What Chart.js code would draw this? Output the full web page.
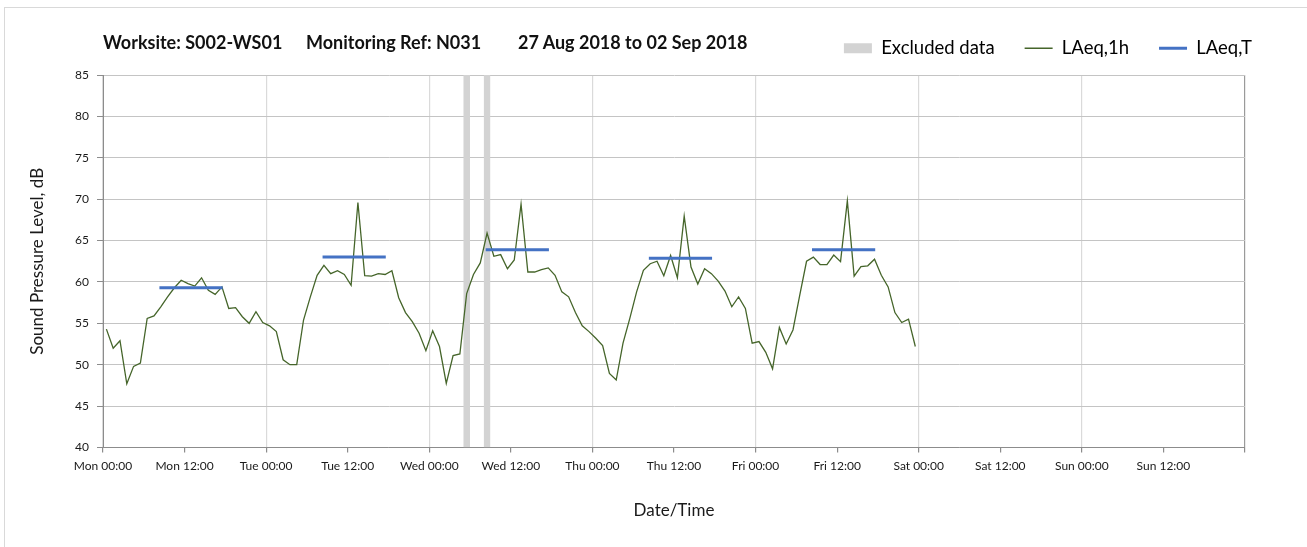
<!DOCTYPE html>
<html>
<head>
<meta charset="utf-8">
<script src="https://cdn.jsdelivr.net/npm/chart.js@4.4.1/dist/chart.umd.min.js"></script>
<style>
  html, body { margin: 0; padding: 0; background: #ffffff; }
  #wrap { position: relative; width: 1307px; height: 547px; overflow: hidden; background: #fff; }
  #frame { position: absolute; left: 4px; top: 7px; width: 1400px; height: 600px;
           border-left: 1px solid #d9d9d9; border-top: 1px solid #d9d9d9; }
  #title { position: absolute; left: 0; top: 31px; width: 1307px; height: 26px;
           font-family: Lato, "Open Sans", sans-serif; font-weight: bold; font-size: 18px; color: #111; }
  #title span { position: absolute; top: 0; white-space: pre; }
  canvas { position: absolute; left: 0; top: 0; }
</style>
</head>
<body>
<div id="wrap">
  <div id="frame"></div>
  <canvas id="c" width="1307" height="547"></canvas>
  <div id="title"><span style="left:103px">Worksite: S002-WS01</span><span style="left:306px">Monitoring Ref: N031</span><span style="left:518px">27 Aug 2018 to 02 Sep 2018</span></div>
</div>
<script>
// ---- Data ----
const tickLabels = ['Mon 00:00','Mon 12:00','Tue 00:00','Tue 12:00','Wed 00:00','Wed 12:00',
  'Thu 00:00','Thu 12:00','Fri 00:00','Fri 12:00','Sat 00:00','Sat 12:00','Sun 00:00','Sun 12:00'];

// hourly LAeq,1h values (dB), starting Mon 00:00
const laeq1h = [
  54.3, 52.0, 52.9, 47.7, 49.8, 50.2, 55.6, 55.9, 57.0, 58.2, 59.3, 60.2,
  59.8, 59.5, 60.5, 59.0, 58.5, 59.4, 56.8, 56.9, 55.8, 55.0, 56.4, 55.1,
  54.7, 54.0, 50.6, 50.0, 50.0, 55.4, 58.2, 60.8, 62.0, 61.0, 61.35, 60.9,
  59.6, 69.6, 60.75, 60.7, 61.0, 60.9, 61.35, 58.1, 56.3, 55.2, 53.8, 51.7,
  54.1, 52.2, 47.75, 51.1, 51.3, 58.6, 60.9, 62.3, 65.9, 63.1, 63.3, 61.6,
  62.65, 69.4, 61.2, 61.2, 61.5, 61.7, 60.8, 58.8, 58.2, 56.3, 54.7, 54.0,
  53.2, 52.3, 48.95, 48.15, 52.6, 55.6, 58.8, 61.4, 62.2, 62.5, 60.75, 63.2,
  60.5, 67.95, 61.8, 59.75, 61.6, 61.0, 60.1, 58.9, 57.0, 58.2, 56.8, 52.6,
  52.8, 51.5, 49.5, 54.5, 52.5, 54.2, 58.4, 62.5, 63.0, 62.1, 62.1, 63.25,
  62.45, 69.8, 60.7, 61.85, 61.95, 62.75, 60.8, 59.4, 56.3, 55.1, 55.5, 52.2
];

// LAeq,T daytime periods (hours from Mon 00:00) and levels
const laeqTStart = [8.3, 32.3, 56.3, 80.3, 104.3];
const laeqTEnd   = [17.6, 41.6, 65.6, 89.6, 113.6];
const laeqTValue = [59.3, 63.0, 63.9, 62.85, 63.9];

// Excluded data periods (hours from Mon 00:00)
const excludedStart = [53, 56];
const excludedEnd   = [54, 57];

const yMin = 40, yMax = 85, yStep = 5;
const xMin = 0, xMax = 168, xStep = 12;

// ---- Styles ----
const green = '#45652a';
const blue = '#4472c4';
const grey = '#d3d3d3';
const axisCol = '#8c8c8c';
const fontFam = 'Lato, "Open Sans", sans-serif';

// ---- Build datasets ----
const lineData = laeq1h.map((v, i) => ({ x: i + 0.5, y: v }));
const tData = [];
laeqTStart.forEach((s, k) => {
  tData.push({ x: s, y: laeqTValue[k] });
  tData.push({ x: laeqTEnd[k], y: laeqTValue[k] });
  if (k < laeqTStart.length - 1) tData.push({ x: (laeqTEnd[k] + laeqTStart[k + 1]) / 2, y: null });
});

const datasets = [
  { label: 'LAeq,1h', data: lineData, borderColor: green, backgroundColor: green,
    borderWidth: 1.3, pointRadius: 0, tension: 0, order: 2, yAxisID: 'y' },
  { label: 'LAeq,T', data: tData, borderColor: blue, backgroundColor: blue,
    borderWidth: 3, pointRadius: 0, spanGaps: false, order: 1, yAxisID: 'y' }
];
excludedStart.forEach((s, k) => {
  datasets.push({ label: 'Excluded data',
    data: [{ x: s, y: yMax }, { x: excludedEnd[k], y: yMax }],
    borderWidth: 0, borderColor: grey, backgroundColor: grey, pointRadius: 0,
    fill: 'start', order: 3, yAxisID: 'y' });
});

new Chart(document.getElementById('c'), {
  type: 'line',
  data: { datasets },
  options: {
    responsive: false,
    animation: false,
    layout: { padding: { top: 9, left: 0, right: 25, bottom: 0 } },
    plugins: {
      tooltip: { enabled: false },
      title: { display: true, text: '', font: { size: 1, lineHeight: 1 },
               padding: { top: 0, bottom: 6.5 }, weight: 500 },
      legend: {
        position: 'top', align: 'end',
        labels: {
          usePointStyle: true, pointStyleWidth: 28, boxHeight: 10, padding: 30,
          color: '#1a1a1a', font: { family: fontFam, size: 18.5 },
          generateLabels: (chart) => {
            const ds = chart.data.datasets;
            return [
              { text: ds[2].label, fillStyle: grey, strokeStyle: grey, lineWidth: 0, pointStyle: 'rect', datasetIndex: 2, hidden: false },
              { text: ds[0].label, fillStyle: green, strokeStyle: green, lineWidth: 1.5, pointStyle: 'line', datasetIndex: 0, hidden: false },
              { text: ds[1].label, fillStyle: blue, strokeStyle: blue, lineWidth: 3, pointStyle: 'line', datasetIndex: 1, hidden: false }
            ];
          }
        }
      }
    },
    scales: {
      x: {
        type: 'linear', min: xMin, max: xMax,
        afterFit: (s) => { s.height = 99.5; },
        ticks: {
          stepSize: xStep, autoSkip: false, maxRotation: 0, padding: 6,
          color: '#1a1a1a', font: { family: fontFam, size: 12 },
          callback: (v) => (tickLabels[Math.round(v / xStep)] !== undefined ? tickLabels[Math.round(v / xStep)] : '')
        },
        grid: {
          color: (c) => {
            const v = c.tick ? c.tick.value : null;
            if (v === null) return 'rgba(0,0,0,0)';
            if (v === xMax) return '#9a9a9a';
            return (v % 24 === 0) ? '#dadada' : 'rgba(0,0,0,0)';
          },
          lineWidth: 1.2, tickColor: axisCol, tickLength: 5, drawTicks: true
        },
        border: { display: true, color: axisCol, width: 1 },
        title: { display: true, text: 'Date/Time', color: '#1a1a1a',
                 font: { family: fontFam, size: 17 }, padding: { top: 4, bottom: 26 } }
      },
      y: {
        type: 'linear', position: 'left', min: yMin, max: yMax,
        afterFit: (s) => { s.width = 103; },
        ticks: { stepSize: yStep, padding: 8, color: '#1a1a1a', font: { family: fontFam, size: 12 } },
        grid: { color: '#c4c4c4', lineWidth: 1, tickColor: axisCol, tickLength: 6 },
        border: { display: true, color: axisCol, width: 1 },
        title: { display: true, text: 'Sound Pressure Level, dB', color: '#1a1a1a',
                 font: { family: fontFam, size: 17 }, padding: { top: 27, bottom: 0 } }
      },
      yr: {
        type: 'linear', position: 'right', display: true,
        afterFit: (s) => { s.width = 37; },
        ticks: { display: false }, grid: { display: false }, border: { display: false }
      }
    }
  }
});
</script>
</body>
</html>
